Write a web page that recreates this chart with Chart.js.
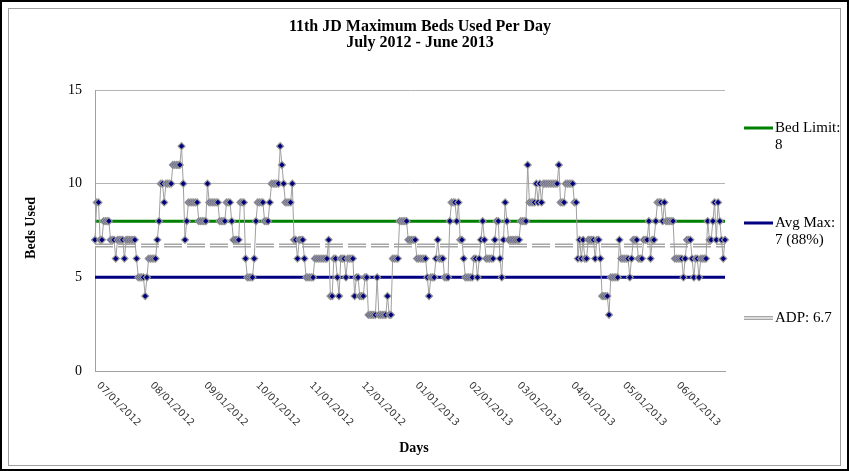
<!DOCTYPE html>
<html lang="en">
<head>
    <meta charset="UTF-8">
    <title>11th JD Maximum Beds Used Per Day</title>
    <style>
        body { margin: 0; background: #fff; }
        canvas { display: block; }
    </style>
</head>
<body>
    <canvas id="bedsChart" width="849" height="471"></canvas>

    <script src="https://cdn.jsdelivr.net/npm/chart.js@4.4.0/dist/chart.umd.min.js"></script>
    <script>
        // daily max beds used, July 2012 - June 2013 (one value per day)
        const bedsUsed = [
            // Jul
            7,9,9,7,7,8,8,8,8,7,7,7,6,7,7,7,7,6,7,7,7,7,7,7,6,5,5,5,5,4,5,
            // Aug
            6,6,6,6,6,7,8,10,10,9,10,10,10,10,11,11,11,11,11,12,10,7,8,9,9,9,9,9,9,8,8,
            // Sep
            8,8,8,10,9,9,9,9,9,9,8,8,8,8,9,9,9,8,7,7,7,7,9,9,9,6,5,5,5,5,
            // Oct
            6,8,9,9,9,9,8,8,8,9,10,10,10,10,10,12,11,10,9,9,9,9,10,7,7,6,7,7,7,6,5,
            // Nov
            5,5,5,5,6,6,6,6,6,6,6,6,7,4,4,6,6,5,4,6,6,6,5,6,6,6,6,4,5,5,
            // Dec
            4,4,4,5,5,3,3,3,3,3,5,3,3,3,3,3,4,3,3,6,6,6,6,8,8,8,8,8,7,7,7,
            // Jan
            7,7,6,6,6,6,6,6,5,4,5,5,5,6,7,6,6,6,5,5,5,8,9,9,9,8,9,7,7,6,5,
            // Feb
            5,5,5,5,6,6,5,6,7,8,7,6,6,6,6,6,7,8,8,6,5,7,9,8,7,7,7,7,
            // Mar
            7,7,7,8,8,8,8,11,9,9,9,9,10,9,10,9,10,10,10,10,10,10,10,10,10,11,9,9,9,10,10,
            // Apr
            10,10,10,9,9,6,7,6,7,6,6,7,7,7,7,6,7,7,6,4,4,4,4,3,5,5,5,5,5,7,
            // May
            6,6,6,6,6,5,6,7,7,7,6,6,6,7,7,7,8,6,7,7,8,9,9,9,8,9,8,8,8,8,8,
            // Jun
            6,6,6,6,6,5,6,7,7,7,6,5,6,6,5,6,6,6,6,8,7,7,8,9,7,9,8,7,6,7
        ];

        const monthTicks = ['07/01/2012', '08/01/2012', '09/01/2012', '10/01/2012', '11/01/2012', '12/01/2012',
                            '01/01/2013', '02/01/2013', '03/01/2013', '04/01/2013', '05/01/2013', '06/01/2013'];

        const bedLimit = 8;
        const avgMax = 5;      // drawn level of the "Avg Max" line
        const adp = 6.7;

        const legendItems = [
            { text: ['Bed Limit:', '8'], color: '#008000' },
            { text: ['Avg Max:', '7 (88%)'], color: '#000080' },
            { text: ['ADP: 6.7'], color: 'adp' }
        ];

        // one category per day
        const pad = n => (n < 10 ? '0' : '') + n;
        const days = bedsUsed.map((v, i) => {
            const d = new Date(2012, 6, 1 + i);
            return pad(d.getMonth() + 1) + '/' + pad(d.getDate()) + '/' + d.getFullYear();
        });

        const flat = v => days.map(() => v);

        const serif = "'Liberation Serif', 'Times New Roman', serif";

        const decorPlugin = {
            id: 'decor',
            beforeDraw(chart) {
                const ctx = chart.ctx;
                ctx.save();
                ctx.fillStyle = '#fff';
                ctx.fillRect(0, 0, chart.width, chart.height);
                // outer black frame + inner gray chart border
                ctx.strokeStyle = '#000';
                ctx.lineWidth = 2;
                ctx.strokeRect(1, 1, chart.width - 2, chart.height - 2);
                ctx.strokeStyle = '#a0a0a0';
                ctx.lineWidth = 1;
                ctx.strokeRect(8.5, 8.5, 832, 457);
                ctx.restore();
            },
            afterDraw(chart) {
                const ctx = chart.ctx;
                const xs = chart.scales.x;
                ctx.save();
                ctx.fillStyle = '#000';

                // title
                ctx.font = 'bold 16px ' + serif;
                ctx.textAlign = 'center';
                ctx.textBaseline = 'middle';
                ctx.fillText('11th JD Maximum Beds Used Per Day', 420, 27);
                ctx.fillText('July 2012 - June 2013', 420, 43);

                // axis titles
                ctx.font = 'bold 14px ' + serif;
                ctx.fillText('Days', 414, 448);
                ctx.save();
                ctx.translate(31, 228);
                ctx.rotate(-Math.PI / 2);
                ctx.fillText('Beds Used', 0, 0);
                ctx.restore();

                // month labels, slanted down to the right
                ctx.font = "10px 'DejaVu Sans', sans-serif";
                ctx.fillStyle = '#333';
                ctx.textAlign = 'left';
                monthTicks.forEach(lbl => {
                    const idx = days.indexOf(lbl);
                    const x = xs.getPixelForValue(idx);
                    ctx.save();
                    ctx.translate(x + 3, 384);
                    ctx.rotate(Math.PI / 4);
                    ctx.fillText(lbl, 0, 0);
                    ctx.restore();
                });

                // legend
                ctx.font = '15px ' + serif;
                ctx.fillStyle = '#000';
                const ly = [128, 223, 318];
                legendItems.forEach((item, i) => {
                    const y = ly[i];
                    if (item.color === 'adp') {
                        ctx.strokeStyle = '#a6a6a6';
                        ctx.lineWidth = 4;
                        ctx.beginPath(); ctx.moveTo(744, y); ctx.lineTo(773, y); ctx.stroke();
                        ctx.strokeStyle = '#fff';
                        ctx.lineWidth = 1.2;
                        ctx.beginPath(); ctx.moveTo(744, y); ctx.lineTo(773, y); ctx.stroke();
                    } else {
                        ctx.strokeStyle = item.color;
                        ctx.lineWidth = 3;
                        ctx.beginPath(); ctx.moveTo(744, y); ctx.lineTo(773, y); ctx.stroke();
                    }
                    item.text.forEach((t, k) => ctx.fillText(t, 775, y + k * 17));
                });
                ctx.restore();
            }
        };

        new Chart(document.getElementById('bedsChart'), {
            type: 'line',
            data: {
                labels: days,
                datasets: [
                    {
                        label: 'Beds Used',
                        data: bedsUsed,
                        borderColor: '#a0a0a0',
                        borderWidth: 1,
                        pointStyle: 'rectRot',
                        pointRadius: 3.5,
                        pointBackgroundColor: '#000080',
                        pointBorderColor: '#999999',
                        pointBorderWidth: 1.2,
                        order: 0
                    },
                    {
                        label: 'Bed Limit',
                        data: flat(bedLimit),
                        borderColor: '#008000',
                        borderWidth: 3,
                        pointRadius: 0,
                        order: 2
                    },
                    {
                        label: 'Avg Max',
                        data: flat(avgMax),
                        borderColor: '#000080',
                        borderWidth: 3,
                        pointRadius: 0,
                        order: 2
                    },
                    {
                        label: 'ADP',
                        data: flat(adp),
                        borderColor: '#a6a6a6',
                        borderWidth: 4,
                        borderDash: [18, 5],
                        pointRadius: 0,
                        order: 3
                    },
                    {
                        label: 'ADP inner',
                        data: flat(adp),
                        borderColor: '#ffffff',
                        borderWidth: 1.2,
                        borderDash: [18, 5],
                        pointRadius: 0,
                        order: 2
                    }
                ]
            },
            options: {
                responsive: false,
                devicePixelRatio: 1,
                animation: false,
                layout: { padding: { top: 90, right: 124, left: 0, bottom: 0 } },
                plugins: {
                    legend: { display: false },
                    tooltip: { enabled: false },
                    title: { display: false }
                },
                scales: {
                    x: {
                        type: 'category',
                        grid: { display: false },
                        border: { color: '#a0a0a0' },
                        ticks: { display: false },
                        afterFit: s => { s.height = 100; }
                    },
                    y: {
                        min: 0,
                        max: 15,
                        ticks: {
                            stepSize: 5,
                            padding: 13,
                            color: '#000',
                            font: { family: serif, size: 14 }
                        },
                        grid: { color: '#b4b4b4', drawTicks: false },
                        border: { color: '#a0a0a0' },
                        afterFit: s => { s.width = 95; }
                    }
                }
            },
            plugins: [decorPlugin]
        });
    </script>
</body>
</html>
